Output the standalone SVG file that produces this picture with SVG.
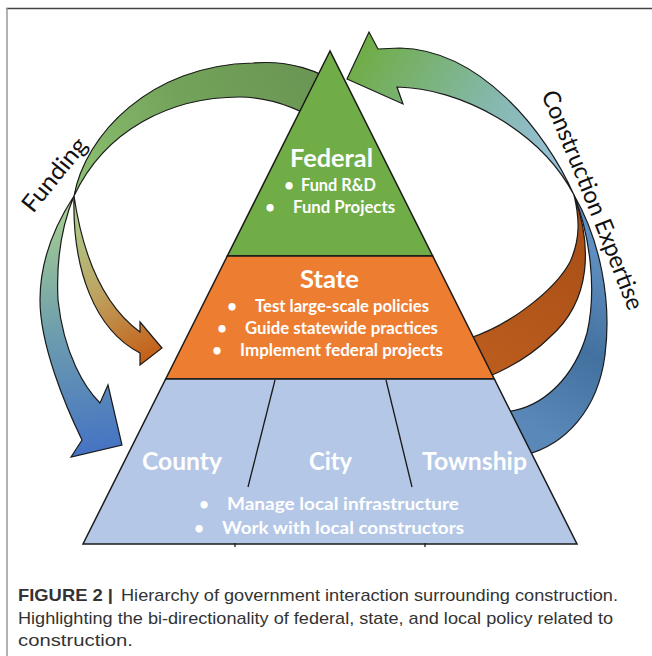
<svg xmlns="http://www.w3.org/2000/svg" width="652" height="656" viewBox="0 0 652 656">
<defs>
<style>
.arrow{stroke:#1a1a1a;stroke-width:1.2;stroke-linejoin:miter}
.tier{stroke:#1a1a1a;stroke-width:1.5;stroke-linejoin:miter}
.div{stroke:#1a1a1a;stroke-width:1.3;fill:none}
.w{font-family:Lato,"Open Sans",sans-serif;font-weight:bold;fill:#ffffff}
.h{font-size:25px}
.b{font-size:16.5px}
.side{font-family:Lato,"Open Sans",sans-serif;font-size:24px;fill:#111111}
.cap{font-family:"Liberation Sans",Arial,sans-serif;font-size:17px;fill:#333333}
</style>
<linearGradient id="gTopL" gradientUnits="userSpaceOnUse" x1="74" y1="196" x2="320" y2="70">
<stop offset="0" stop-color="#8DC172"/><stop offset="0.5" stop-color="#73A35A"/><stop offset="1" stop-color="#6A9553"/>
</linearGradient>
<linearGradient id="gBlueL" gradientUnits="userSpaceOnUse" x1="60" y1="200" x2="100" y2="455">
<stop offset="0" stop-color="#A9D18E"/><stop offset="0.5" stop-color="#6E9EAE"/><stop offset="1" stop-color="#4472C4"/>
</linearGradient>
<linearGradient id="gOrL" gradientUnits="userSpaceOnUse" x1="74" y1="200" x2="160" y2="360">
<stop offset="0" stop-color="#A9D18E"/><stop offset="0.5" stop-color="#BDA563"/><stop offset="1" stop-color="#C55A11"/>
</linearGradient>
<linearGradient id="gTopR" gradientUnits="userSpaceOnUse" x1="574" y1="195" x2="360" y2="55">
<stop offset="0" stop-color="#9DC3E6"/><stop offset="0.45" stop-color="#86B8B0"/><stop offset="1" stop-color="#70AD47"/>
</linearGradient>
<linearGradient id="gOrR" gradientUnits="userSpaceOnUse" x1="580" y1="200" x2="480" y2="370">
<stop offset="0" stop-color="#A64D16"/><stop offset="1" stop-color="#BC5D1E"/>
</linearGradient>
<linearGradient id="gBlueR" gradientUnits="userSpaceOnUse" x1="520" y1="420" x2="610" y2="260">
<stop offset="0" stop-color="#5A88B8"/><stop offset="0.5" stop-color="#43719F"/><stop offset="1" stop-color="#5F8FC0"/>
</linearGradient>
<path id="cePath" d="M 541,95 Q 576,175 629,313" fill="none"/>
</defs>
<rect x="0" y="0" width="652" height="656" fill="#ffffff"/>
<line x1="6" y1="8.5" x2="652" y2="8.5" stroke="#444444" stroke-width="1.6"/>
<line x1="7" y1="8" x2="7" y2="656" stroke="#999999" stroke-width="1.5"/>

<g id="connectors">
<path id="funding-top" class="arrow" fill="url(#gTopL)" d="M 74,196 C 85,135 150,65 253,63 C 290,60 318,70 345,88 L 330,128 C 300,108 270,97 240,97 C 170,97 105,130 74,196 Z"/>
<path id="funding-to-local" class="arrow" fill="url(#gBlueL)" d="M 74,196 C 55,225 40,260 40,300 C 40,345 65,405 82,440 L 71,457 L 122,445 L 108,385 L 100,403 C 85,388 64,355 58,300 C 56,260 62,225 74,196 Z"/>
<path id="funding-to-state" class="arrow" fill="url(#gOrL)" d="M 74,196 C 72,270 95,330 140,353 L 140,365 L 162,348 L 140,322 L 140,332 C 110,310 85,270 74,196 Z"/>
<path id="expertise-to-federal" class="arrow" fill="url(#gTopR)" d="M 574,195 C 545,130 480,50 400,48 L 378,49 L 369,32 L 347,79 L 403,104 L 397,87 C 460,88 540,130 574,195 Z"/>
<path id="expertise-from-state" class="arrow" fill="url(#gOrR)" d="M 574,195 C 592,245 592,300 550,337 C 530,357 505,370 485,378 L 470,338 C 510,325 555,290 570,262 C 580,240 580,220 574,195 Z"/>
<path id="expertise-from-local" class="arrow" fill="url(#gBlueR)" d="M 574,195 C 600,240 612,300 605,355 C 598,410 565,445 525,455 L 505,412 C 545,408 575,375 587,333 C 597,290 590,235 574,195 Z"/>
<text id="funding-label" class="side" transform="translate(33,214) rotate(-51)" textLength="88" lengthAdjust="spacingAndGlyphs">Funding</text>
<text id="expertise-label" class="side" font-size="23"><textPath href="#cePath" textLength="234" lengthAdjust="spacingAndGlyphs">Construction Expertise</textPath></text>
</g>

<g id="federal">
<polygon class="tier" fill="#70AD47" points="330,51 227.3,256 432.7,256"/>
<text class="w h" x="290" y="167" textLength="83" lengthAdjust="spacingAndGlyphs">Federal</text>
<text class="w b" x="289" y="191" text-anchor="middle">•</text>
<text class="w b" x="301" y="191" textLength="75" lengthAdjust="spacingAndGlyphs">Fund R&amp;D</text>
<text class="w b" x="270" y="213" text-anchor="middle">•</text>
<text class="w b" x="293" y="213" textLength="102" lengthAdjust="spacingAndGlyphs">Fund Projects</text>
</g>

<g id="state">
<polygon class="tier" fill="#ED7D31" points="227.3,256 432.7,256 494.3,379 165.7,379"/>
<text class="w h" x="300" y="288" textLength="59" lengthAdjust="spacingAndGlyphs">State</text>
<text class="w b" x="232" y="312" text-anchor="middle">•</text>
<text class="w b" x="255" y="312" textLength="174" lengthAdjust="spacingAndGlyphs">Test large-scale policies</text>
<text class="w b" x="222" y="334" text-anchor="middle">•</text>
<text class="w b" x="245" y="334" textLength="193" lengthAdjust="spacingAndGlyphs">Guide statewide practices</text>
<text class="w b" x="217" y="356" text-anchor="middle">•</text>
<text class="w b" x="240" y="356" textLength="203" lengthAdjust="spacingAndGlyphs">Implement federal projects</text>
</g>

<g id="local">
<polygon class="tier" fill="#B4C7E7" points="165.7,379 494.3,379 577,544 83,544"/>
<line class="div" x1="275" y1="380" x2="248" y2="487"/>
<line class="div" x1="386" y1="380" x2="412" y2="487"/>
<line class="div" x1="235" y1="543" x2="235" y2="547"/>
<line class="div" x1="425" y1="543" x2="425" y2="547"/>
<text class="w h" x="142" y="470" textLength="80" lengthAdjust="spacingAndGlyphs">County</text>
<text class="w h" x="309" y="470" textLength="43" lengthAdjust="spacingAndGlyphs">City</text>
<text class="w h" x="422" y="470" textLength="105" lengthAdjust="spacingAndGlyphs">Township</text>
<text class="w b" x="204" y="510" text-anchor="middle">•</text>
<text class="w b" x="227" y="510" textLength="232" lengthAdjust="spacingAndGlyphs">Manage local infrastructure</text>
<text class="w b" x="199" y="534" text-anchor="middle">•</text>
<text class="w b" x="222" y="534" textLength="242" lengthAdjust="spacingAndGlyphs">Work with local constructors</text>
</g>

<g id="caption">
<text class="cap" x="18" y="601" font-weight="bold" textLength="95" lengthAdjust="spacingAndGlyphs">FIGURE 2 |</text>
<text class="cap" x="121" y="601" textLength="497" lengthAdjust="spacingAndGlyphs">Hierarchy of government interaction surrounding construction.</text>
<text class="cap" x="18" y="624" textLength="595" lengthAdjust="spacingAndGlyphs">Highlighting the bi-directionality of federal, state, and local policy related to</text>
<text class="cap" x="18" y="646" textLength="115" lengthAdjust="spacingAndGlyphs">construction.</text>
</g>
</svg>
